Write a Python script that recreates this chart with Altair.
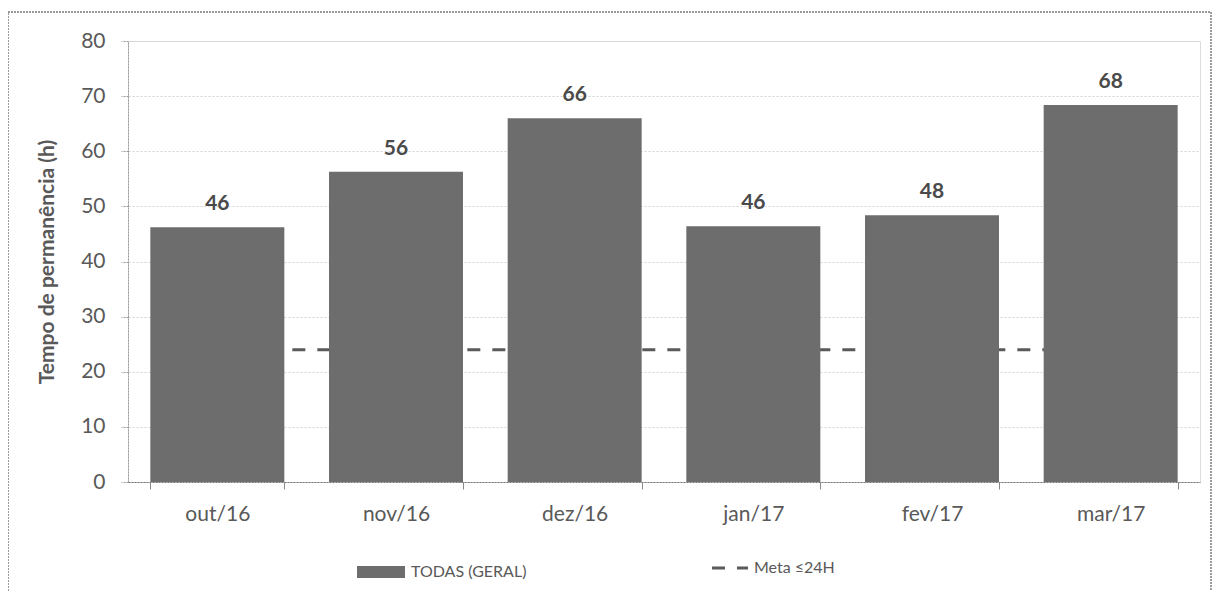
import altair as alt
import pandas as pd

meses = ["out/16", "nov/16", "dez/16", "jan/17", "fev/17", "mar/17"]
tempo = [46.2, 56.3, 66.0, 46.4, 48.4, 68.4]
meta = [24, 24, 24, 24, 24, 24]
serie_barra = "TODAS (GERAL)"
serie_meta = "Meta ≤24H"
y_ticks = [0, 10, 20, 30, 40, 50, 60, 70, 80]

df = pd.DataFrame({
    "mes": meses,
    "tempo": tempo,
    "meta": meta,
    "s1": [serie_barra] * len(meses),
    "s2": [serie_meta] * len(meses),
})

FONT = "Lato"
W, H = 1072, 441

x_enc = alt.X(
    "mes:N", sort=meses, title=None,
    scale=alt.Scale(paddingInner=0.25, paddingOuter=0.125),
    axis=alt.Axis(labelAngle=0, labelFontSize=21, labelColor="#595959", labelFont=FONT,
                  labelPadding=14, tickBand="extent", tickSize=7, tickColor="#888",
                  domainColor="#777", domainDash=[2, 1], grid=False),
)

line = alt.Chart(df).mark_line(strokeWidth=3, color="#5a5a5a").encode(
    x=x_enc,
    y=alt.Y("meta:Q"),
    strokeDash=alt.StrokeDash(
        "s2:N", scale=alt.Scale(domain=[serie_meta], range=[[13, 12]]),
        legend=alt.Legend(title=None, orient="none", legendX=582, legendY=507,
                          symbolType="stroke", symbolSize=1300, symbolStrokeWidth=3,
                          symbolStrokeColor="#5a5a5a",
                          labelFontSize=16, labelFont=FONT,
                          labelColor="#595959", labelOffset=4),
    ),
)

bars = alt.Chart(df).mark_bar(color="#6d6d6d").encode(
    x=x_enc,
    y=alt.Y("tempo:Q", title="Tempo de permanência (h)",
            scale=alt.Scale(domain=[0, 80], nice=False),
            axis=alt.Axis(values=y_ticks, labelFontSize=21, labelColor="#595959", labelFont=FONT,
                          labelPadding=16, tickSize=7, tickColor="#999", tickDash=[2, 1],
                          domainColor="#999", domainDash=[2, 1],
                          gridColor="#d2d2d2", gridDash=[2, 2], gridWidth=1,
                          titleFont=FONT, titleFontSize=21, titleFontWeight="bold",
                          titleColor="#595959", titlePadding=23)),
    color=alt.Color(
        "s1:N", scale=alt.Scale(domain=[serie_barra], range=["#6d6d6d"]),
        legend=alt.Legend(title=None, orient="none", legendX=229, legendY=507,
                          symbolType="M-1,-0.25H1V0.25H-1Z", symbolSize=2304,
                          symbolStrokeWidth=0, labelFontSize=16, labelFont=FONT,
                          labelColor="#595959", labelOffset=6),
    ),
)

labels = alt.Chart(df).mark_text(
    baseline="bottom", dy=-13, fontSize=21, fontWeight="bold", font=FONT, color="#4a4a4a"
).encode(
    x=x_enc,
    y=alt.Y("tempo:Q"),
    text=alt.Text("tempo:Q", format=".0f"),
)

border = alt.Chart(df).mark_rect(
    fill=None, stroke="#9a9a9a", strokeDash=[2, 1], strokeWidth=1
).encode(
    x=alt.value(-120), x2=alt.value(1083), y=alt.value(-29), y2=alt.value(556)
)

chart = alt.layer(line, bars, labels, border).resolve_legend(
    color="independent", strokeDash="independent"
).properties(
    width=W, height=H,
    padding={"left": 120, "top": 33, "right": 12, "bottom": 109},
    autosize=alt.AutoSizeParams(type="none"),
).configure_view(stroke=None).configure(background="white")

chart.save("out.html", embed_options={"renderer": "svg", "actions": False})
